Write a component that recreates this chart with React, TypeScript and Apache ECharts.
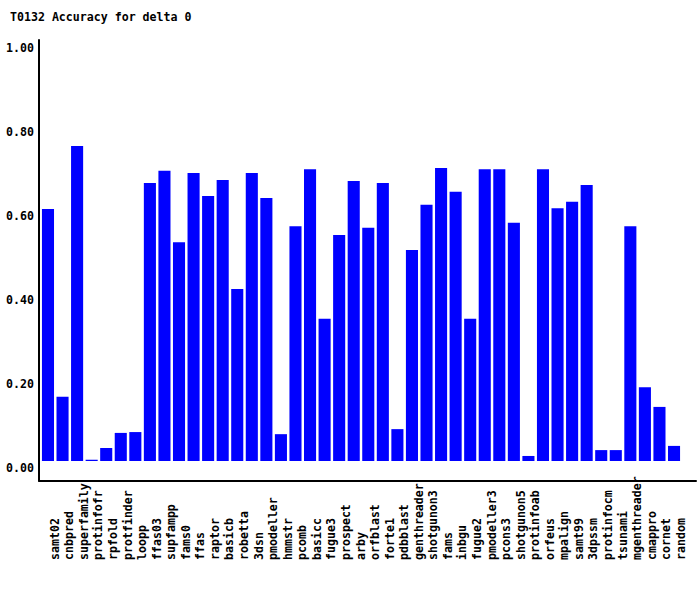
import React, { useEffect, useRef } from "react";
import * as echarts from "echarts";

const titleText = "T0132 Accuracy for delta 0";

const categories = [
  "samt02", "cnbpred", "superfamily", "protinfofr", "rpfold", "protfinder", "loopp", "ffas03",
  "supfampp", "fams0", "ffas", "raptor", "basicb", "robetta", "3dsn", "pmodeller", "hmmstr",
  "pcomb", "basicc", "fugue3", "prospect", "arby", "orfblast", "forte1", "pdbblast",
  "genthreader", "shotgunon3", "fams", "inbgu", "fugue2", "pmodeller3", "pcons3",
  "shotgunon5", "protinfoab", "orfeus", "mpalign", "samt99", "3dpssm", "protinfocm",
  "tsunami", "mgenthreader", "cmappro", "cornet", "random",
];

const accuracy = [
  0.601, 0.153, 0.751, 0.003, 0.031, 0.067, 0.069, 0.663,
  0.692, 0.522, 0.687, 0.632, 0.670, 0.410, 0.687, 0.627, 0.064,
  0.560, 0.696, 0.339, 0.539, 0.668, 0.556, 0.663, 0.076,
  0.503, 0.611, 0.699, 0.642, 0.339, 0.696, 0.696,
  0.568, 0.012, 0.696, 0.603, 0.618, 0.658, 0.026,
  0.026, 0.560, 0.176, 0.129, 0.036,
];

const FONT = "'DejaVu Sans Mono', 'Liberation Mono', monospace";

export default function App() {
  const ref = useRef<HTMLDivElement>(null);
  useEffect(() => {
    if (!ref.current) return;
    const chart = echarts.init(ref.current, null, { renderer: "svg" });
    const labelStyle = {
      fontFamily: FONT,
      fontWeight: "bold" as const,
      fontSize: 11.6,
      color: "#000",
    };
    chart.setOption({
      animation: false,
      backgroundColor: "#fff",
      title: {
        text: titleText,
        left: 10,
        top: 11,
        padding: 0,
        textStyle: { ...labelStyle },
      },
      grid: [
        // bars
        { left: 40.7, right: 18.7, top: 41.7, bottom: 129, containLabel: false },
        // category labels (offset to the right)
        { left: 47.5, right: 11.9, top: 41.7, bottom: 129, containLabel: false },
        // frame lines
        { left: 39, right: 4, top: 40, bottom: 109.3, containLabel: false },
      ],
      xAxis: [
        {
          type: "category",
          gridIndex: 0,
          data: categories,
          axisLine: { show: false },
          axisTick: { show: false },
          axisLabel: { show: false },
        },
        {
          type: "category",
          gridIndex: 1,
          data: categories,
          axisLine: { show: false },
          axisTick: { show: false },
          axisLabel: {
            ...labelStyle,
            interval: 0,
            rotate: 90,
            align: "left",
            margin: 99,
          },
        },
        {
          type: "value",
          gridIndex: 2,
          min: 0,
          max: 1,
          axisLine: { show: true, lineStyle: { color: "#000", width: 2 } },
          axisTick: { show: false },
          axisLabel: { show: false },
          splitLine: { show: false },
        },
      ],
      yAxis: [
        {
          type: "value",
          gridIndex: 0,
          min: 0,
          max: 1,
          interval: 0.2,
          axisLine: { show: false },
          axisTick: { show: false },
          splitLine: { show: false },
          axisLabel: {
            ...labelStyle,
            margin: 6.7,
            verticalAlign: "top",
            lineHeight: 13,
            formatter: (v: number) => v.toFixed(2),
          },
        },
        {
          type: "value",
          gridIndex: 1,
          min: 0,
          max: 1,
          show: false,
        },
        {
          type: "value",
          gridIndex: 2,
          min: 0,
          max: 1,
          axisLine: { show: true, lineStyle: { color: "#000", width: 2 } },
          axisTick: { show: false },
          axisLabel: { show: false },
          splitLine: { show: false },
        },
      ],
      series: [
        {
          type: "bar",
          xAxisIndex: 0,
          yAxisIndex: 0,
          data: accuracy,
          barCategoryGap: "17%",
          barMinHeight: 1,
          itemStyle: { color: "#0000ff" },
        },
      ],
    });
    return () => chart.dispose();
  }, []);
  return <div ref={ref} style={{ width: 700, height: 590, position: "absolute", left: 0, top: 0 }} />;
}
